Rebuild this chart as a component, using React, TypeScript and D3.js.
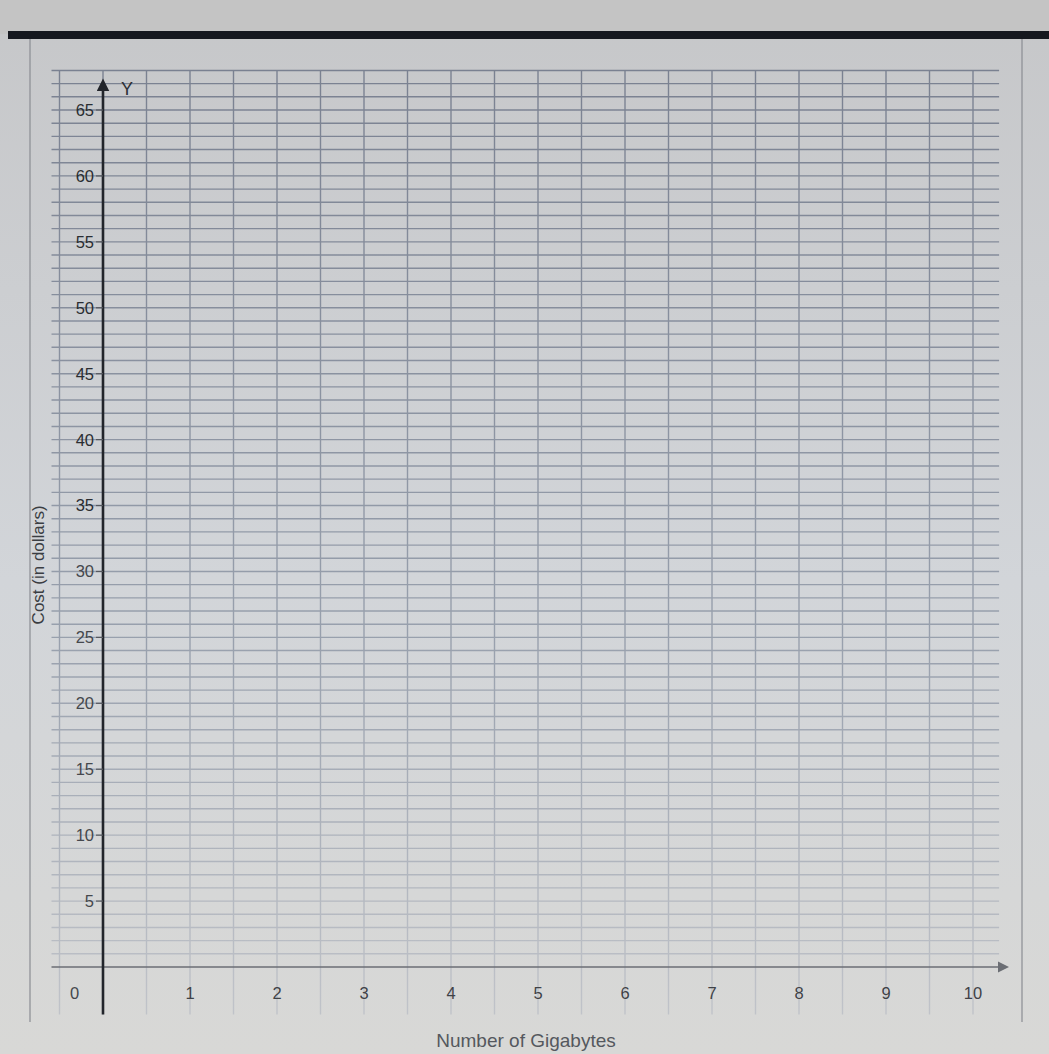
import React, { useEffect, useRef } from "react";
import * as d3 from "d3";

// tick values on the two axes
const xTicks = [1, 2, 3, 4, 5, 6, 7, 8, 9, 10];
const yTicks = [5, 10, 15, 20, 25, 30, 35, 40, 45, 50, 55, 60, 65];
// grid: vertical lines every half gigabyte, horizontal lines every dollar
const xGridStep = 0.5;
const yGridStep = 1;
const xLabel = "Number of Gigabytes";
const yLabel = "Cost (in dollars)";

const W = 1049;
const H = 1054;

export default function App() {
  const ref = useRef<SVGSVGElement>(null);

  useEffect(() => {
    const svg = d3.select(ref.current);
    svg.selectAll("*").remove();

    const x = d3.scaleLinear().domain([0, 10]).range([103, 973]);
    const y = d3.scaleLinear().domain([0, 65]).range([967, 110]);

    const xMin = -0.5, xMax = 10.3;
    const yMin = -3.6, yMax = 68;

    const defs = svg.append("defs");
    const bg = defs.append("linearGradient").attr("id", "bg").attr("x1", 0).attr("y1", 0).attr("x2", 0).attr("y2", 1);
    bg.append("stop").attr("offset", "0%").attr("stop-color", "#c6c7c9");
    bg.append("stop").attr("offset", "55%").attr("stop-color", "#d2d5d9");
    bg.append("stop").attr("offset", "100%").attr("stop-color", "#d8d8d6");

    const gridFade = defs.append("linearGradient").attr("id", "gridFade")
      .attr("gradientUnits", "userSpaceOnUse")
      .attr("x1", 0).attr("y1", y(yMax)).attr("x2", 0).attr("y2", y(yMin));
    gridFade.append("stop").attr("offset", "0%").attr("stop-color", "#7a8191");
    gridFade.append("stop").attr("offset", "60%").attr("stop-color", "#98a0ad");
    gridFade.append("stop").attr("offset", "100%").attr("stop-color", "#c0c3c9");

    // page background
    svg.append("rect").attr("width", W).attr("height", H).attr("fill", "url(#bg)");
    svg.append("rect").attr("width", W).attr("height", 34).attr("fill", "#c4c4c4");

    // panel border + dark bar on top
    svg.append("line").attr("x1", 30).attr("x2", 30).attr("y1", 38).attr("y2", 1022)
      .attr("stroke", "#8a8d93").attr("stroke-width", 1.2);
    svg.append("line").attr("x1", 1022).attr("x2", 1022).attr("y1", 38).attr("y2", 1022)
      .attr("stroke", "#8a8d93").attr("stroke-width", 1.2);
    svg.append("rect").attr("x", 8).attr("y", 31).attr("width", W - 8).attr("height", 8).attr("fill", "#15181f");

    // grid
    const grid = svg.append("g").attr("stroke", "url(#gridFade)").attr("stroke-width", 1.4);
    const vLines = d3.range(xMin, xMax + 0.001, xGridStep);
    grid.selectAll("line.v").data(vLines).enter().append("line")
      .attr("class", "v")
      .attr("x1", (d) => x(d)).attr("x2", (d) => x(d))
      .attr("y1", y(yMax)).attr("y2", y(yMin));
    const hLines = d3.range(1, yMax + 0.001, yGridStep);
    grid.selectAll("line.h").data(hLines).enter().append("line")
      .attr("class", "h")
      .attr("x1", x(xMin) - 8).attr("x2", x(xMax))
      .attr("y1", (d) => y(d)).attr("y2", (d) => y(d));

    // arrowheads
    defs.append("marker").attr("id", "arrY").attr("viewBox", "0 0 10 10")
      .attr("refX", 5).attr("refY", 5).attr("markerWidth", 5).attr("markerHeight", 5)
      .attr("orient", "auto").attr("markerUnits", "strokeWidth")
      .append("path").attr("d", "M0,0L10,5L0,10Z").attr("fill", "#22252b");
    defs.append("marker").attr("id", "arrX").attr("viewBox", "0 0 10 10")
      .attr("refX", 5).attr("refY", 5).attr("markerWidth", 7).attr("markerHeight", 7)
      .attr("orient", "auto").attr("markerUnits", "strokeWidth")
      .append("path").attr("d", "M0,0L10,5L0,10Z").attr("fill", "#6b6e74");

    // x axis
    svg.append("line")
      .attr("x1", x(xMin) - 8).attr("x2", x(10.35))
      .attr("y1", y(0)).attr("y2", y(0))
      .attr("stroke", "#6b6e74").attr("stroke-width", 1.6)
      .attr("marker-end", "url(#arrX)");

    // y axis
    svg.append("line")
      .attr("x1", x(0)).attr("x2", x(0))
      .attr("y1", y(yMin)).attr("y2", y(66.9))
      .attr("stroke", "#22252b").attr("stroke-width", 2.6)
      .attr("marker-end", "url(#arrY)");

    const font = "Liberation Sans, Arial, sans-serif";

    svg.append("text").attr("x", x(0) + 18).attr("y", y(66.1))
      .attr("font-family", font).attr("font-size", 18).attr("fill", "#2c2f35").text("Y");

    // y ticks and labels
    const yAxis = svg.append("g");
    yAxis.selectAll("line").data(yTicks).enter().append("line")
      .attr("x1", x(0) - 7).attr("x2", x(0))
      .attr("y1", (d) => y(d)).attr("y2", (d) => y(d))
      .attr("stroke", "#55585e").attr("stroke-width", 1.2);
    yAxis.selectAll("text").data(yTicks).enter().append("text")
      .attr("x", x(0) - 9).attr("y", (d) => y(d))
      .attr("dy", "0.36em").attr("text-anchor", "end")
      .attr("font-family", font).attr("font-size", 16.5)
      .attr("fill", (d) => (d > 30 ? "#2a2d32" : "#45484d"))
      .text((d) => d);

    // origin label
    svg.append("text").attr("x", x(0) - 33).attr("y", y(0) + 32)
      .attr("font-family", font).attr("font-size", 16.5).attr("fill", "#45484d").text("0");

    // x labels
    svg.append("g").selectAll("text").data(xTicks).enter().append("text")
      .attr("x", (d) => x(d)).attr("y", y(0) + 32)
      .attr("text-anchor", "middle")
      .attr("font-family", font).attr("font-size", 16.5).attr("fill", "#3f4247")
      .text((d) => d);

    // axis titles
    svg.append("text")
      .attr("x", (x(4) + x(6)) / 2 - 12).attr("y", 1047)
      .attr("text-anchor", "middle")
      .attr("font-family", font).attr("font-size", 19).attr("fill", "#55585e")
      .text(xLabel);

    svg.append("text")
      .attr("transform", `translate(44, ${y(30.5)}) rotate(-90)`)
      .attr("text-anchor", "middle")
      .attr("font-family", font).attr("font-size", 17).attr("fill", "#3a3d42")
      .text(yLabel);
  }, []);

  return (
    <svg
      ref={ref}
      width={W}
      height={H}
      style={{ position: "absolute", left: 0, top: 0, display: "block" }}
    />
  );
}
